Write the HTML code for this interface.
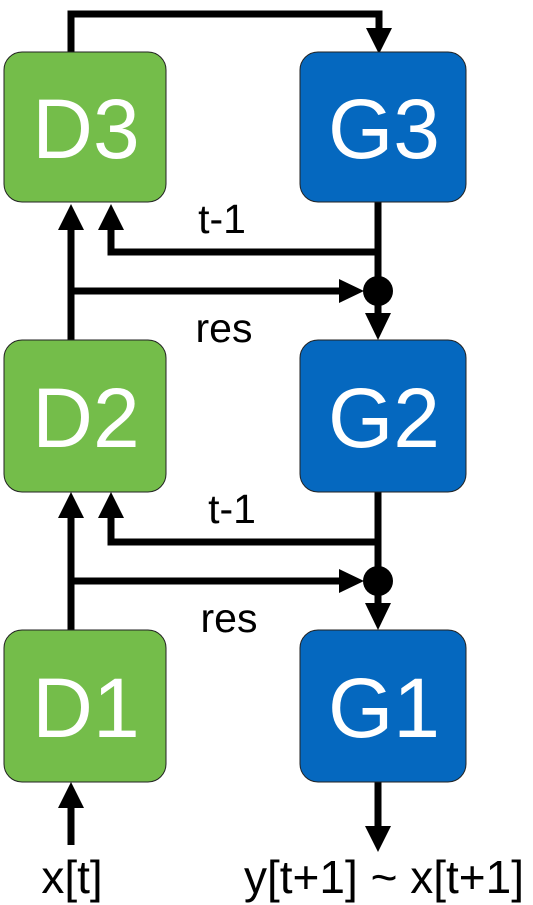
<!DOCTYPE html>
<html><head><meta charset="utf-8"><style>
html,body{margin:0;padding:0;background:#fff;width:533px;height:905px;overflow:hidden}
svg{display:block}
text{font-family:"Liberation Sans",sans-serif}
</style></head><body>
<svg width="533" height="905" viewBox="0 0 533 905">
<g stroke="#000" stroke-width="7" fill="none">
  <polyline points="71,52 71,14 379,14 379,30"/>
  <line x1="71" y1="340" x2="71" y2="225"/>
  <polyline points="378,252 111,252 111,226"/>
  <line x1="378" y1="202" x2="378" y2="315"/>
  <line x1="71" y1="291" x2="345" y2="291"/>
  <line x1="71" y1="630" x2="71" y2="515"/>
  <polyline points="378,542 111,542 111,516"/>
  <line x1="378" y1="492" x2="378" y2="605"/>
  <line x1="71" y1="581" x2="345" y2="581"/>
  <line x1="71" y1="845" x2="71" y2="805"/>
  <line x1="378" y1="782" x2="378" y2="828"/>
</g>
<g fill="#000">
  <polygon points="366,28 392,28 379,54"/>
  <polygon points="58,230 84,230 71,204"/>
  <polygon points="98,230 124,230 111,204"/>
  <polygon points="339,279 339,303 364,291"/>
  <polygon points="365,313 391,313 378,340"/>
  <polygon points="58,518 84,518 71,492"/>
  <polygon points="98,518 124,518 111,492"/>
  <polygon points="339,569 339,593 364,581"/>
  <polygon points="365,603 391,603 378,630"/>
  <polygon points="58,808 84,808 71,782"/>
  <polygon points="365,826 391,826 378,852"/>
  <circle cx="378" cy="291" r="15"/>
  <circle cx="378" cy="581" r="15"/>
</g>
<g stroke="#222" stroke-width="1">
  <rect x="4" y="52" width="162" height="150" rx="18" fill="#74bd4a"/>
  <rect x="300" y="52" width="166" height="150" rx="18" fill="#0568bf"/>
  <rect x="4" y="340" width="162" height="152" rx="18" fill="#74bd4a"/>
  <rect x="300" y="340" width="166" height="152" rx="18" fill="#0568bf"/>
  <rect x="4" y="630" width="162" height="152" rx="18" fill="#74bd4a"/>
  <rect x="300" y="630" width="166" height="152" rx="18" fill="#0568bf"/>
</g>
<g fill="#fff" font-size="84" text-anchor="middle">
  <text x="86" y="158">D3</text>
  <text x="384" y="158">G3</text>
  <text x="86" y="447">D2</text>
  <text x="384" y="447">G2</text>
  <text x="86" y="737">D1</text>
  <text x="384" y="737">G1</text>
</g>
<g fill="#000" font-size="41" text-anchor="middle">
  <text x="222" y="233">t-1</text>
  <text x="224" y="342">res</text>
  <text x="232" y="523">t-1</text>
  <text x="229" y="632">res</text>
  <text x="72" y="893" font-size="46">x[t]</text>
  <text x="384" y="893" font-size="46">y[t+1] ~ x[t+1]</text>
</g>
</svg>
</body></html>
